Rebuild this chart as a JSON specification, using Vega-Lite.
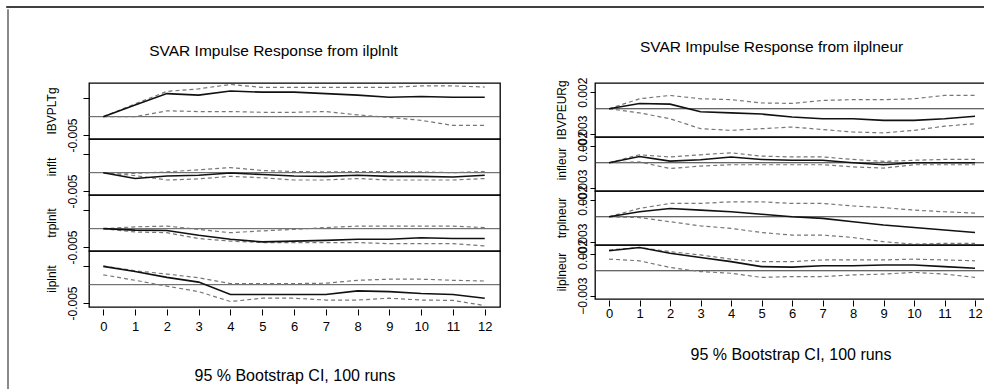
{
  "$schema": "https://vega.github.io/schema/vega-lite/v6.json",
  "background": "white",
  "padding": {"left": 6, "top": 6, "right": 0, "bottom": 0},
  "config": {
    "font": "Liberation Sans",
    "view": {"stroke": "black", "strokeWidth": 1.3},
    "axis": {"grid": false, "labelColor": "black", "tickColor": "black", "titleColor": "black", "labelOverlap": false},
    "header": {"labelColor": "black"},
    "title": {"color": "black"}
  },
  "datasets": {
    "left": [
      {"response": "IBVPLTg", "h": 0, "irf": 0, "lower": 0, "upper": 0},
      {"response": "IBVPLTg", "h": 1, "irf": 0.0032, "lower": 0.0, "upper": 0.0035},
      {"response": "IBVPLTg", "h": 2, "irf": 0.0063, "lower": 0.0016, "upper": 0.0069},
      {"response": "IBVPLTg", "h": 3, "irf": 0.0059, "lower": 0.0014, "upper": 0.0076},
      {"response": "IBVPLTg", "h": 4, "irf": 0.0070, "lower": 0.0014, "upper": 0.0088},
      {"response": "IBVPLTg", "h": 5, "irf": 0.0067, "lower": 0.0012, "upper": 0.0080},
      {"response": "IBVPLTg", "h": 6, "irf": 0.0067, "lower": 0.0012, "upper": 0.0080},
      {"response": "IBVPLTg", "h": 7, "irf": 0.0063, "lower": 0.0014, "upper": 0.0080},
      {"response": "IBVPLTg", "h": 8, "irf": 0.0059, "lower": 0.0005, "upper": 0.0080},
      {"response": "IBVPLTg", "h": 9, "irf": 0.0053, "lower": -0.0002, "upper": 0.0080},
      {"response": "IBVPLTg", "h": 10, "irf": 0.0055, "lower": -0.0010, "upper": 0.0084},
      {"response": "IBVPLTg", "h": 11, "irf": 0.0053, "lower": -0.0024, "upper": 0.0084},
      {"response": "IBVPLTg", "h": 12, "irf": 0.0053, "lower": -0.0024, "upper": 0.0081},
      {"response": "inflt", "h": 0, "irf": 0, "lower": 0, "upper": 0},
      {"response": "inflt", "h": 1, "irf": -0.0016, "lower": -0.0008, "upper": -0.0002},
      {"response": "inflt", "h": 2, "irf": -0.0009, "lower": -0.0020, "upper": 0.0002},
      {"response": "inflt", "h": 3, "irf": -0.0007, "lower": -0.0017, "upper": 0.0008},
      {"response": "inflt", "h": 4, "irf": -0.0001, "lower": -0.0010, "upper": 0.0014},
      {"response": "inflt", "h": 5, "irf": -0.0005, "lower": -0.0014, "upper": 0.0006},
      {"response": "inflt", "h": 6, "irf": -0.0009, "lower": -0.0020, "upper": 0.0003},
      {"response": "inflt", "h": 7, "irf": -0.0010, "lower": -0.0020, "upper": 0.0002},
      {"response": "inflt", "h": 8, "irf": -0.0007, "lower": -0.0016, "upper": 0.0003},
      {"response": "inflt", "h": 9, "irf": -0.0010, "lower": -0.0020, "upper": 0.0003},
      {"response": "inflt", "h": 10, "irf": -0.0010, "lower": -0.0020, "upper": 0.0002},
      {"response": "inflt", "h": 11, "irf": -0.0012, "lower": -0.0020, "upper": 0.0000},
      {"response": "inflt", "h": 12, "irf": -0.0007, "lower": -0.0016, "upper": 0.0003},
      {"response": "trplnlt", "h": 0, "irf": 0, "lower": 0, "upper": 0},
      {"response": "trplnlt", "h": 1, "irf": -0.0004, "lower": -0.0009, "upper": 0.0005},
      {"response": "trplnlt", "h": 2, "irf": -0.0005, "lower": -0.0011, "upper": 0.0007},
      {"response": "trplnlt", "h": 3, "irf": -0.0018, "lower": -0.0027, "upper": -0.0002},
      {"response": "trplnlt", "h": 4, "irf": -0.0029, "lower": -0.0034, "upper": -0.0011},
      {"response": "trplnlt", "h": 5, "irf": -0.0036, "lower": -0.0038, "upper": -0.0006},
      {"response": "trplnlt", "h": 6, "irf": -0.0034, "lower": -0.0038, "upper": -0.0002},
      {"response": "trplnlt", "h": 7, "irf": -0.0032, "lower": -0.0038, "upper": 0.0003},
      {"response": "trplnlt", "h": 8, "irf": -0.0029, "lower": -0.0038, "upper": 0.0007},
      {"response": "trplnlt", "h": 9, "irf": -0.0029, "lower": -0.0041, "upper": 0.0007},
      {"response": "trplnlt", "h": 10, "irf": -0.0025, "lower": -0.0041, "upper": 0.0007},
      {"response": "trplnlt", "h": 11, "irf": -0.0027, "lower": -0.0041, "upper": 0.0007},
      {"response": "trplnlt", "h": 12, "irf": -0.0027, "lower": -0.0047, "upper": 0.0003},
      {"response": "ilplnlt", "h": 0, "irf": 0.0050, "lower": 0.0027, "upper": 0.0051},
      {"response": "ilplnlt", "h": 1, "irf": 0.0036, "lower": 0.0012, "upper": 0.0038},
      {"response": "ilplnlt", "h": 2, "irf": 0.0020, "lower": -0.0004, "upper": 0.0029},
      {"response": "ilplnlt", "h": 3, "irf": 0.0007, "lower": -0.0019, "upper": 0.0019},
      {"response": "ilplnlt", "h": 4, "irf": -0.0027, "lower": -0.0046, "upper": 0.0003},
      {"response": "ilplnlt", "h": 5, "irf": -0.0027, "lower": -0.0037, "upper": 0.0003},
      {"response": "ilplnlt", "h": 6, "irf": -0.0027, "lower": -0.0037, "upper": 0.0003},
      {"response": "ilplnlt", "h": 7, "irf": -0.0027, "lower": -0.0042, "upper": 0.0004},
      {"response": "ilplnlt", "h": 8, "irf": -0.0017, "lower": -0.0042, "upper": 0.0012},
      {"response": "ilplnlt", "h": 9, "irf": -0.0019, "lower": -0.0037, "upper": 0.0015},
      {"response": "ilplnlt", "h": 10, "irf": -0.0024, "lower": -0.0042, "upper": 0.0015},
      {"response": "ilplnlt", "h": 11, "irf": -0.0027, "lower": -0.0043, "upper": 0.0012},
      {"response": "ilplnlt", "h": 12, "irf": -0.0037, "lower": -0.0057, "upper": 0.0010}
    ],
    "right": [
      {"response": "IBVPEURg", "h": 0, "irf": 0, "lower": 0, "upper": 0},
      {"response": "IBVPEURg", "h": 1, "irf": 0.00064, "lower": -0.0005, "upper": 0.0012},
      {"response": "IBVPEURg", "h": 2, "irf": 0.00056, "lower": -0.0012, "upper": 0.0016},
      {"response": "IBVPEURg", "h": 3, "irf": -0.00036, "lower": -0.0024, "upper": 0.0012},
      {"response": "IBVPEURg", "h": 4, "irf": -0.0005, "lower": -0.0026, "upper": 0.0011},
      {"response": "IBVPEURg", "h": 5, "irf": -0.00064, "lower": -0.0024, "upper": 0.0007},
      {"response": "IBVPEURg", "h": 6, "irf": -0.0010, "lower": -0.0022, "upper": 0.00064},
      {"response": "IBVPEURg", "h": 7, "irf": -0.0012, "lower": -0.0025, "upper": 0.0010},
      {"response": "IBVPEURg", "h": 8, "irf": -0.0012, "lower": -0.0028, "upper": 0.0011},
      {"response": "IBVPEURg", "h": 9, "irf": -0.0014, "lower": -0.0029, "upper": 0.0011},
      {"response": "IBVPEURg", "h": 10, "irf": -0.0014, "lower": -0.0026, "upper": 0.0012},
      {"response": "IBVPEURg", "h": 11, "irf": -0.0012, "lower": -0.0021, "upper": 0.0016},
      {"response": "IBVPEURg", "h": 12, "irf": -0.0009, "lower": -0.0018, "upper": 0.0016},
      {"response": "infleur", "h": 0, "irf": 0, "lower": 0, "upper": 0},
      {"response": "infleur", "h": 1, "irf": 0.00076, "lower": 0.0001, "upper": 0.00096},
      {"response": "infleur", "h": 2, "irf": 0.0002, "lower": -0.0007, "upper": 0.0007},
      {"response": "infleur", "h": 3, "irf": 0.00036, "lower": -0.0004, "upper": 0.00096},
      {"response": "infleur", "h": 4, "irf": 0.0007, "lower": -0.00024, "upper": 0.0012},
      {"response": "infleur", "h": 5, "irf": 0.0004, "lower": -0.00024, "upper": 0.0008},
      {"response": "infleur", "h": 6, "irf": 0.0003, "lower": -0.00024, "upper": 0.0007},
      {"response": "infleur", "h": 7, "irf": 0.0003, "lower": -0.00024, "upper": 0.0007},
      {"response": "infleur", "h": 8, "irf": 0.0, "lower": -0.0005, "upper": 0.0004},
      {"response": "infleur", "h": 9, "irf": -0.00024, "lower": -0.00064, "upper": 0.00016},
      {"response": "infleur", "h": 10, "irf": 0.0, "lower": -0.00024, "upper": 0.0003},
      {"response": "infleur", "h": 11, "irf": 0.0, "lower": -0.00024, "upper": 0.0004},
      {"response": "infleur", "h": 12, "irf": 0.0, "lower": -0.00024, "upper": 0.0004},
      {"response": "trplneur", "h": 0, "irf": 0, "lower": 0, "upper": 0},
      {"response": "trplneur", "h": 1, "irf": 0.0006, "lower": -0.0001, "upper": 0.0010},
      {"response": "trplneur", "h": 2, "irf": 0.0010, "lower": -0.0006, "upper": 0.0016},
      {"response": "trplneur", "h": 3, "irf": 0.0008, "lower": -0.0011, "upper": 0.0016},
      {"response": "trplneur", "h": 4, "irf": 0.0006, "lower": -0.0014, "upper": 0.0018},
      {"response": "trplneur", "h": 5, "irf": 0.0003, "lower": -0.0019, "upper": 0.0018},
      {"response": "trplneur", "h": 6, "irf": 0.0, "lower": -0.0022, "upper": 0.0016},
      {"response": "trplneur", "h": 7, "irf": -0.0002, "lower": -0.0022, "upper": 0.0016},
      {"response": "trplneur", "h": 8, "irf": -0.0006, "lower": -0.0025, "upper": 0.0013},
      {"response": "trplneur", "h": 9, "irf": -0.0010, "lower": -0.0030, "upper": 0.0011},
      {"response": "trplneur", "h": 10, "irf": -0.0013, "lower": -0.0033, "upper": 0.0008},
      {"response": "trplneur", "h": 11, "irf": -0.0016, "lower": -0.0032, "upper": 0.0006},
      {"response": "trplneur", "h": 12, "irf": -0.0019, "lower": -0.0032, "upper": 0.00044},
      {"response": "ilplneur", "h": 0, "irf": 0.0024, "lower": 0.0014, "upper": 0.0025},
      {"response": "ilplneur", "h": 1, "irf": 0.0028, "lower": 0.0012, "upper": 0.0028},
      {"response": "ilplneur", "h": 2, "irf": 0.0021, "lower": 0.0004, "upper": 0.0023},
      {"response": "ilplneur", "h": 3, "irf": 0.0016, "lower": -0.0001, "upper": 0.0019},
      {"response": "ilplneur", "h": 4, "irf": 0.0011, "lower": -0.0003, "upper": 0.0014},
      {"response": "ilplneur", "h": 5, "irf": 0.0005, "lower": -0.0008, "upper": 0.0011},
      {"response": "ilplneur", "h": 6, "irf": 0.00044, "lower": -0.0007, "upper": 0.0011},
      {"response": "ilplneur", "h": 7, "irf": 0.0006, "lower": -0.0007, "upper": 0.0013},
      {"response": "ilplneur", "h": 8, "irf": 0.0006, "lower": -0.0005, "upper": 0.0013},
      {"response": "ilplneur", "h": 9, "irf": 0.0007, "lower": -0.0004, "upper": 0.0013},
      {"response": "ilplneur", "h": 10, "irf": 0.0007, "lower": -0.0002, "upper": 0.0014},
      {"response": "ilplneur", "h": 11, "irf": 0.0005, "lower": -0.0004, "upper": 0.0013},
      {"response": "ilplneur", "h": 12, "irf": 0.0003, "lower": -0.0008, "upper": 0.0012}
    ]
  },
  "spacing": 0,
  "vconcat": [
    {"data": {"values": []}, "mark": "rule", "encoding": {}, "width": 977, "height": 0.001, "view": {"stroke": "black", "strokeWidth": 1.6}},
    {
      "spacing": 37,
      "hconcat": [
        {"data": {"values": []}, "mark": "rule", "encoding": {}, "width": 1, "height": 383, "view": {"stroke": "#8a8a8a", "strokeWidth": 1}},
        {
          "spacing": 0,
          "vconcat": [
            {"data": {"values": []}, "mark": "rule", "encoding": {}, "width": 10, "height": 30, "view": {"stroke": null}},
            {
              "spacing": 53,
              "hconcat": [
                {
                  "data": {"name": "left"},
                  "title": {"text": "SVAR Impulse Response from ilplnlt", "fontSize": 15.5, "fontWeight": "normal", "anchor": "middle", "offset": 22},
                  "facet": {"row": {"field": "response", "type": "nominal", "sort": ["IBVPLTg", "inflt", "trplnlt", "ilplnlt"], "title": null,
                    "header": {"labelAngle": -90, "labelOrient": "left", "labelFontSize": 12, "labelPadding": 2}}},
                  "spacing": {"row": 0},
                  "bounds": "flush",
                  "spec": {
                    "width": 411,
                    "height": 56,
                    "encoding": {
                      "x": {"field": "h", "type": "quantitative", "scale": {"domain": [-0.45, 12.48], "nice": false, "zero": false},
                        "axis": {"values": [0, 1, 2, 3, 4, 5, 6, 7, 8, 9, 10, 11, 12], "title": "95 % Bootstrap CI,  100 runs", "titleFontSize": 16, "titleFontWeight": "normal", "titlePadding": 34, "offset": 2, "domain": false, "tickSize": 6, "labelFontSize": 13, "labelPadding": 5}}
                    },
                    "layer": [
                      {"transform": [{"filter": "datum.h == 0"}], "mark": {"type": "rule", "color": "#555", "strokeWidth": 1}, "encoding": {"x": null, "y": {"datum": 0, "type": "quantitative"}}},
                      {"mark": {"type": "line", "color": "#777", "strokeDash": [4, 3], "strokeWidth": 1.2}, "encoding": {"y": {"field": "upper", "type": "quantitative"}}},
                      {"mark": {"type": "line", "color": "#777", "strokeDash": [4, 3], "strokeWidth": 1.2}, "encoding": {"y": {"field": "lower", "type": "quantitative"}}},
                      {"mark": {"type": "line", "color": "#111", "strokeWidth": 1.6}, "encoding": {"y": {"field": "irf", "type": "quantitative",
                        "scale": {"domain": [-0.0061, 0.0092], "nice": false, "zero": false},
                        "axis": {"title": null, "values": [-0.005, 0, 0.005], "labelExpr": "datum.value < -0.004 ? '-0.005' : ''", "labelAngle": -90, "labelAlign": "center", "labelBaseline": "bottom", "labelFontSize": 12, "tickSize": 6, "labelPadding": 4, "domain": false, "labelOverlap": false}}}}
                    ]
                  }
                },
                {
                  "data": {"name": "right"},
                  "title": {"text": "SVAR Impulse Response from ilplneur", "fontSize": 15.5, "fontWeight": "normal", "anchor": "middle", "offset": 22},
                  "facet": {"row": {"field": "response", "type": "nominal", "sort": ["IBVPEURg", "infleur", "trplneur", "ilplneur"], "title": null,
                    "header": {"labelAngle": -90, "labelOrient": "left", "labelFontSize": 12, "labelPadding": 2}}},
                  "spacing": {"row": 0},
                  "bounds": "flush",
                  "spec": {
                    "width": 391,
                    "height": 54,
                    "encoding": {
                      "x": {"field": "h", "type": "quantitative", "scale": {"domain": [-0.46, 12.36], "nice": false, "zero": false},
                        "axis": {"values": [0, 1, 2, 3, 4, 5, 6, 7, 8, 9, 10, 11, 12], "title": "95 % Bootstrap CI,  100 runs", "titleFontSize": 16, "titleFontWeight": "normal", "titlePadding": 26, "offset": 1, "domain": false, "tickSize": 6, "labelFontSize": 13, "labelPadding": 1}}
                    },
                    "layer": [
                      {"transform": [{"filter": "datum.h == 0"}], "mark": {"type": "rule", "color": "#333", "strokeWidth": 1}, "encoding": {"x": null, "y": {"datum": 0, "type": "quantitative"}}},
                      {"mark": {"type": "line", "color": "#777", "strokeDash": [4, 3], "strokeWidth": 1.2}, "encoding": {"y": {"field": "upper", "type": "quantitative"}}},
                      {"mark": {"type": "line", "color": "#777", "strokeDash": [4, 3], "strokeWidth": 1.2}, "encoding": {"y": {"field": "lower", "type": "quantitative"}}},
                      {"mark": {"type": "line", "color": "#111", "strokeWidth": 1.6}, "encoding": {"y": {"field": "irf", "type": "quantitative",
                        "scale": {"domain": [-0.0034, 0.0031], "nice": false, "zero": false},
                        "axis": {"title": null, "values": [-0.003, 0.002], "format": ".3f",
                          "labelAngle": -90, "labelAlign": "center", "labelBaseline": "bottom", "labelFontSize": 12, "tickSize": 5, "labelPadding": 1, "domain": false, "labelOverlap": false}}}}
                    ]
                  }
                }
              ]
            }
          ]
        }
      ]
    }
  ]
}
